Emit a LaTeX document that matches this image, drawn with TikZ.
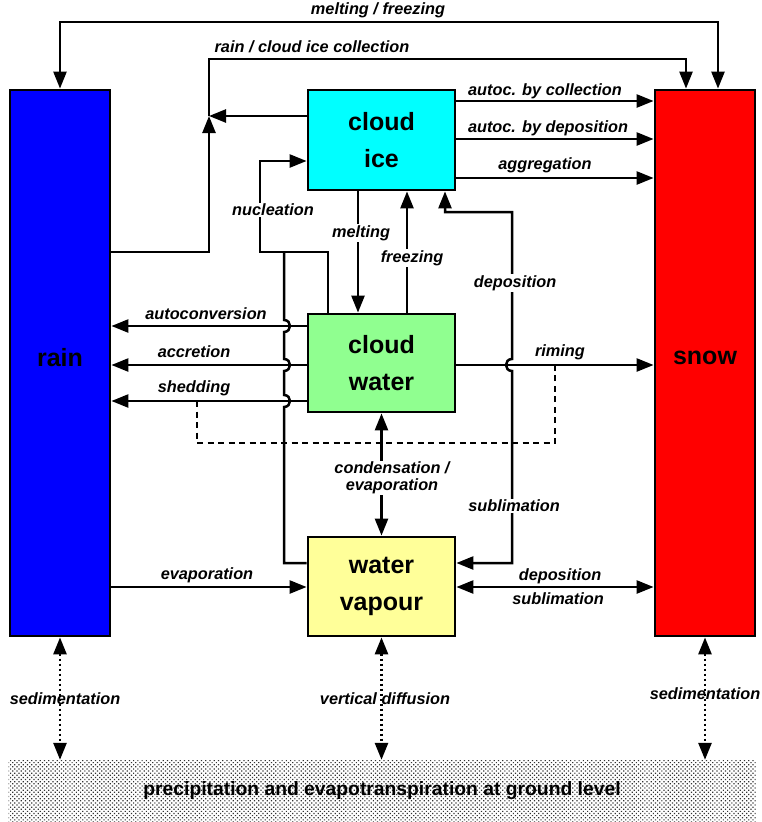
\documentclass[tikz,border=0pt]{standalone}
\usepackage{fontspec}
\setmainfont{Liberation Sans}
\usetikzlibrary{arrows.meta,patterns.meta,calc}
\definecolor{icec}{RGB}{0,255,255}
\definecolor{waterc}{RGB}{144,255,144}
\definecolor{vapc}{RGB}{255,255,153}
\begin{document}
\begin{tikzpicture}[x=1pt,y=-1pt,
  box/.style={draw=black,line width=2.8pt,align=center,inner sep=0pt,
    font=\bfseries\fontsize{25}{37}\selectfont},
  lab/.style={font=\bfseries\itshape\fontsize{16.3}{16.5}\selectfont,inner sep=1pt,align=center},
  wlab/.style={lab,fill=white},
  line/.style={line width=2.5pt},
  conn/.style={line,-{Triangle[length=17pt,width=13pt]}},
  dconn/.style={line,{Triangle[length=17pt,width=13pt]}-{Triangle[length=17pt,width=13pt]}},
  dotconn/.style={dconn,line width=2.7pt,dash pattern=on 2.7pt off 2.3pt},
  dashline/.style={line width=2.3pt,dash pattern=on 6pt off 4.5pt}
]
\useasboundingbox (0,0) rectangle (762,822);

% boxes
\node[box,fill=blue,minimum width=100pt,minimum height=546pt] (rain) at (60,363) {\raisebox{11pt}{rain}};
\node[box,fill=red,minimum width=100pt,minimum height=546pt] (snow) at (705,363) {\raisebox{10pt}{snow}};
\node[box,fill=icec,minimum width=147pt,minimum height=100pt] (ice) at (381.5,140) {cloud\\ice};
\node[box,fill=waterc,minimum width=147pt,minimum height=98pt] (water) at (381.5,363) {cloud\\water};
\node[box,fill=vapc,minimum width=147pt,minimum height=99pt] (vapour) at (381.5,586.5) {water\\vapour};
\node[inner sep=0pt,minimum width=747pt,minimum height=62pt,
  preaction={fill=white},pattern={Dots[distance=3pt,radius=0.85pt,angle=45]},pattern color=black!80,
  font=\bfseries\fontsize{19.3}{21}\selectfont] (ground) at (382,791) {\raisebox{-3pt}{precipitation and evapotranspiration at ground level}};

% level and column coordinates
\foreach \yy in {22,59,101,116,139,161,178,212,252,326,365,401,443,563,587}{\coordinate (L\yy) at (0,\yy);}
\foreach \xx in {197,209,260,284,328,358,407,445,512,555,686,718}{\coordinate (X\xx) at (\xx,0);}

% melting / freezing
\draw[dconn] (rain.north) -- (rain.north |- L22) -| (snow.north -| X718);
% rain / cloud ice collection
\draw[conn] (rain.east |- L252) -- (X209 |- L252) -- (X209 |- L116);
\draw[conn] (X209 |- L116) -- (X209 |- L59) -| (snow.north -| X686);
\draw[conn] (ice.west |- L116) -- (X209 |- L116);
% ice -> snow
\draw[conn] (ice.east |- L101) -- (snow.west |- L101);
\draw[conn] (ice.east |- L139) -- (snow.west |- L139);
\draw[conn] (ice.east |- L178) -- (snow.west |- L178);
% nucleation
\draw[conn] (water.north -| X328) -- (X328 |- L252) -- (X260 |- L252) -- (X260 |- L161) -- (ice.west |- L161);
\draw[line] (vapour.west |- L563) -- (284,563) -- (284,407)
  .. controls (292,407) and (292,395) .. (284,395) -- (284,371)
  .. controls (292,371) and (292,359) .. (284,359) -- (284,332)
  .. controls (292,332) and (292,320) .. (284,320) -- (X284 |- L252);
% melting, freezing
\draw[conn] (ice.south -| X358) -- (water.north -| X358);
\draw[conn] (water.north -| X407) -- (ice.south -| X407);
% deposition / sublimation (ice <-> vapour)
\draw[dconn] (vapour.east |- L563) -- (512,563) -- (512,371)
  .. controls (504,371) and (504,359) .. (512,359) -- (X512 |- L212) -- (X445 |- L212) -- (ice.south -| X445);
% water -> rain
\draw[conn] (water.west |- L326) -- (rain.east |- L326);
\draw[conn] (water.west |- L365) -- (rain.east |- L365);
\draw[conn] (water.west |- L401) -- (rain.east |- L401);
% riming
\draw[conn] (water.east |- L365) -- (snow.west |- L365);
% shedding/riming dashed
\draw[dashline] (X197 |- L401) -- (X197 |- L443) -- (X555 |- L443) -- (X555 |- L365);
% condensation
\draw[dconn] (water.south) -- (vapour.north);
% evaporation
\draw[conn] (rain.east |- L587) -- (vapour.west |- L587);
\draw[dconn] (vapour.east |- L587) -- (snow.west |- L587);
% ground
\draw[dotconn] (rain.south) -- (rain.south |- ground.north);
\draw[dotconn] (vapour.south) -- (vapour.south |- ground.north);
\draw[dotconn] (snow.south) -- (snow.south |- ground.north);

% labels
\node[lab] (l1) at (378,10) {melting / freezing};
\node[lab] (l2) at (312,47) {rain / cloud ice collection};
\node[lab] (l3) at (545,91) {autoc. by collection};
\node[lab] (l4) at (548,128) {autoc. by deposition};
\node[lab] (l5) at (545,165) {aggregation};
\node[wlab] (l6) at (273,210) {nucleation};
\node[wlab] (l7) at (361,233) {melting};
\node[wlab] (l8) at (412,258) {freezing};
\node[wlab] (l9) at (515,283) {deposition};
\node[lab] (l10) at (206,314) {autoconversion};
\node[lab] (l11) at (194,352) {accretion};
\node[lab] (l12) at (194,388) {shedding};
\node[lab] (l13) at (560,352) {riming};
\node[wlab] (l14) at (392,478) {condensation /\\evaporation};
\node[wlab] (l15) at (514,506) {sublimation};
\node[lab] (l16) at (207,575) {evaporation};
\node[lab] (l17) at (560,576) {deposition};
\node[lab] (l18) at (558,599) {sublimation};
\node[lab] (l19) at (65,699) {sedimentation};
\node[lab] (l20) at (385,699) {vertical diffusion};
\node[lab] (l21) at (705,694) {sedimentation};
\end{tikzpicture}
\end{document}
